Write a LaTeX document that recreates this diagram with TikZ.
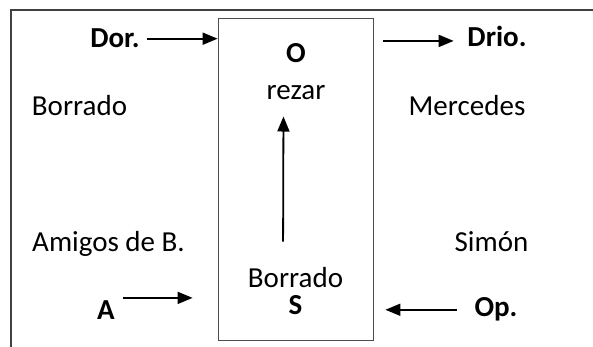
\documentclass[tikz,border=0pt]{standalone}
\usepackage{fontspec}
\setmainfont{Carlito}
\usetikzlibrary{arrows.meta}
\usetikzlibrary{positioning}
\usetikzlibrary{calc}

\begin{document}
\begin{tikzpicture}[x=1pt,y=1pt,>={Triangle[length=15pt,width=12pt]},semithick]
\tikzstyle{word} = [anchor=base, inner sep=3pt, font=\fontsize{29}{35}\selectfont]
\tikzstyle{boldword} = [word, font=\fontsize{29}{35}\selectfont\bfseries]
\tikzstyle{link} = [->, line width=1.8pt]
\tikzstyle{frame} = [line width=1.4pt, black!75]

\useasboundingbox (0,0) rectangle (593,347);

% outer frame (top and left only)
\draw[frame] (11,0) -- (11,337) -- (593,337);

% middle box
\node[draw=black!70, line width=0.8pt, minimum width=155pt, minimum height=322pt] (box) at (295.5,168) {};

\node[boldword] (O)       at (296,284)   {O};
\node[word]     (rezar)   at (296,247)   {rezar};
\node[word]     (inner)   at (295.5,59)  {Borrado};
\node[boldword] (S)       at (295.5,32)  {S};

% left column
\node[boldword] (dor)     at (115,299)   {Dor.};
\node[word]     (borrado) at (79.5,231)  {Borrado};
\node[word]     (amigos)  at (108.5,95)  {Amigos de B.};
\node[boldword] (A)       at (106,27)    {A};

% right column
\node[boldword] (drio)    at (497,300)   {Drio.};
\node[word]     (merc)    at (467,231)   {Mercedes};
\node[word]     (simon)   at (491.5,95)  {Simón};
\node[boldword] (op)      at (496,30)    {Op.};

% arrows
\draw[link, shorten <=4pt] (dor.east) -- (dor.east -| box.west);
\draw[link, shorten <=10pt, shorten >=10.5pt] ([yshift=-4pt]drio.west -| box.east) -- ([yshift=-4pt]drio.west);
\draw[link, shorten <=4.5pt, shorten >=25pt] (A.north east) -- (A.north east -| box.west);
\draw[link, shorten <=14pt, shorten >=12pt] (op.west) -- (op.west -| box.east);
\draw[link, shorten <=23pt, shorten >=13pt] ([xshift=-12.5pt]inner.north) -- ([xshift=-12.5pt]rezar.south);

\end{tikzpicture}
\end{document}
